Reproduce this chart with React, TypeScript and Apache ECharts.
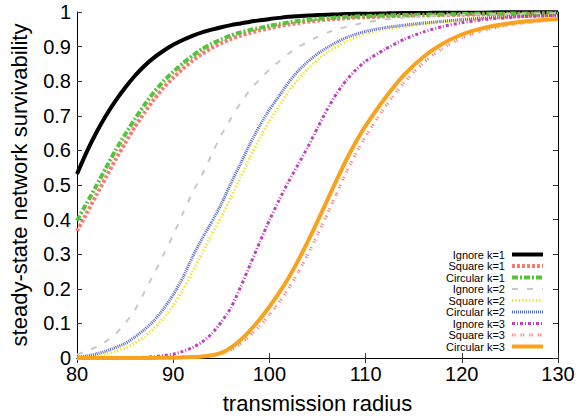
import React, { useEffect, useRef } from "react";
import * as echarts from "echarts";

const radius = [80,81,82,83,84,85,86,87,88,89,90,91,92,93,94,95,96,97,98,99,100,101,102,103,104,105,106,107,108,109,110,112,114,116,118,120,122,124,126,128,130];

const ignoreK1 = [0.532,0.595,0.651,0.700,0.743,0.781,0.815,0.844,0.868,0.888,0.905,0.919,0.931,0.941,0.949,0.956,0.962,0.967,0.972,0.976,0.980,0.983,0.986,0.988,0.990,0.991,0.992,0.993,0.994,0.995,0.995,0.996,0.997,0.997,0.998,0.998,0.998,0.999,0.999,0.999,0.999];
const squareK1 = [0.367,0.418,0.470,0.522,0.573,0.621,0.667,0.709,0.747,0.781,0.810,0.836,0.859,0.879,0.896,0.910,0.922,0.932,0.940,0.947,0.953,0.959,0.964,0.968,0.972,0.975,0.978,0.980,0.982,0.984,0.985,0.987,0.989,0.990,0.991,0.992,0.993,0.994,0.994,0.995,0.995];
const circularK1 = [0.397,0.447,0.497,0.549,0.600,0.646,0.690,0.731,0.768,0.800,0.827,0.852,0.873,0.893,0.908,0.921,0.932,0.941,0.948,0.954,0.960,0.965,0.970,0.974,0.977,0.980,0.982,0.984,0.986,0.987,0.988,0.990,0.991,0.992,0.993,0.994,0.995,0.995,0.996,0.996,0.997];
const ignoreK2 = [0.010,0.020,0.032,0.048,0.069,0.100,0.138,0.190,0.243,0.299,0.355,0.418,0.478,0.530,0.588,0.645,0.692,0.737,0.775,0.806,0.833,0.857,0.880,0.899,0.914,0.928,0.940,0.950,0.957,0.964,0.970,0.978,0.984,0.988,0.990,0.992,0.993,0.994,0.995,0.996,0.996];
const squareK2 = [0.001,0.003,0.006,0.011,0.019,0.029,0.043,0.062,0.086,0.115,0.152,0.196,0.248,0.303,0.356,0.408,0.463,0.522,0.580,0.635,0.684,0.728,0.770,0.806,0.836,0.862,0.883,0.900,0.915,0.927,0.937,0.950,0.958,0.965,0.971,0.976,0.980,0.984,0.986,0.988,0.990];
const circularK2 = [0.003,0.006,0.012,0.020,0.030,0.042,0.060,0.082,0.108,0.142,0.183,0.232,0.292,0.345,0.393,0.445,0.505,0.562,0.620,0.672,0.718,0.757,0.797,0.830,0.857,0.879,0.897,0.913,0.926,0.936,0.944,0.955,0.962,0.968,0.973,0.978,0.982,0.985,0.987,0.989,0.990];
const ignoreK3 = [0.000,0.000,0.000,0.001,0.001,0.001,0.001,0.002,0.004,0.007,0.011,0.019,0.030,0.046,0.070,0.104,0.145,0.205,0.270,0.335,0.398,0.456,0.510,0.560,0.610,0.665,0.718,0.765,0.803,0.833,0.858,0.892,0.921,0.942,0.958,0.969,0.977,0.982,0.986,0.988,0.990];
const squareK3 = [0,0,0,0,0,0,0,0,0,0,0,0.001,0.002,0.003,0.006,0.012,0.023,0.041,0.065,0.093,0.125,0.161,0.201,0.248,0.300,0.356,0.415,0.476,0.537,0.592,0.640,0.725,0.796,0.853,0.895,0.925,0.945,0.958,0.967,0.973,0.978];
const circularK3 = [0,0,0,0,0,0,0,0,0,0.001,0.001,0.002,0.003,0.004,0.008,0.015,0.030,0.052,0.080,0.112,0.148,0.188,0.232,0.282,0.337,0.395,0.455,0.515,0.573,0.625,0.671,0.750,0.818,0.870,0.908,0.935,0.952,0.963,0.971,0.976,0.980];

const xTicks = { min: 80, max: 130, interval: 10 };
const yTicks = { min: 0, max: 1, interval: 0.1 };

const FONT = "'Liberation Sans', Arial, sans-serif";

const seriesDefs = [
  { name: "Ignore k=1", data: ignoreK1, color: "#000000", width: 4, type: "solid" as any },
  { name: "Square k=1", data: squareK1, color: "#f47c74", width: 4, type: [3, 2] },
  { name: "Circular k=1", data: circularK1, color: "#55c43c", width: 4, type: [6, 2, 2, 2] },
  { name: "Ignore k=2", data: ignoreK2, color: "#c8c8c8", width: 2, type: [6, 9] },
  { name: "Square k=2", data: squareK2, color: "#f2e21a", width: 3, type: [1.2, 2.2] },
  { name: "Circular k=2", data: circularK2, color: "#5468c8", width: 3, type: [1, 1] },
  { name: "Ignore k=3", data: ignoreK3, color: "#c23fc0", width: 3, type: [3, 2, 1, 2] },
  { name: "Square k=3", data: squareK3, color: "#f78080", width: 3, type: [1.2, 1.2, 1.2, 5] },
  { name: "Circular k=3", data: circularK3, color: "#f8a21e", width: 4, type: "solid" as any },
];

export default function App() {
  const ref = useRef<HTMLDivElement>(null);
  useEffect(() => {
    document.body.style.margin = "0";
    if (!ref.current) return;
    const chart = echarts.init(ref.current, undefined, { renderer: "svg" });
    const axisLine = { show: true, lineStyle: { color: "#000", width: 1 } };
    const axisTick = { show: true, inside: true, length: 5, lineStyle: { color: "#333", width: 1 } };
    chart.setOption({
      animation: false,
      backgroundColor: "#fff",
      textStyle: { fontFamily: FONT },
      grid: { left: 77, right: 24, top: 12, bottom: 59, containLabel: false },
      xAxis: [
        {
          type: "value", ...xTicks, position: "bottom",
          axisLine, axisTick, splitLine: { show: false },
          axisLabel: { fontSize: 20, color: "#000", margin: 6, fontFamily: FONT },
          name: "transmission radius", nameLocation: "middle", nameGap: 34,
          nameTextStyle: { fontSize: 22, color: "#000", fontFamily: FONT },
        },
        {
          type: "value", ...xTicks, position: "top",
          axisLine, axisTick, splitLine: { show: false }, axisLabel: { show: false },
        },
      ],
      yAxis: [
        {
          type: "value", ...yTicks, position: "left",
          axisLine, axisTick, splitLine: { show: false },
          axisLabel: { fontSize: 20, color: "#000", margin: 6, fontFamily: FONT },
          name: "steady-state network survivability", nameLocation: "middle", nameGap: 47,
          nameTextStyle: { fontSize: 22, color: "#000", fontFamily: FONT },
        },
        {
          type: "value", ...yTicks, position: "right",
          axisLine, axisTick, splitLine: { show: false }, axisLabel: { show: false },
        },
      ],
      legend: {
        orient: "vertical",
        right: 37,
        top: 249,
        align: "right",
        itemWidth: 31,
        itemHeight: 10,
        itemGap: 0.5,
        padding: 0,
        itemStyle: { opacity: 0 },
        lineStyle: { width: "inherit" },
        textStyle: { fontSize: 11, lineHeight: 10.9, color: "#000", fontFamily: FONT, padding: [0, 2, 0, 0] },
        data: seriesDefs.map((s) => s.name),
      },
      series: seriesDefs.map((s) => ({
        name: s.name,
        type: "line",
        symbol: "none",
        smooth: 0.2,
        data: radius.map((r, i) => [r, s.data[i]]),
        lineStyle: { color: s.color, width: s.width, type: s.type },
        itemStyle: { color: s.color },
      })),
    });
    return () => chart.dispose();
  }, []);
  return <div ref={ref} style={{ width: 582, height: 419 }} />;
}
